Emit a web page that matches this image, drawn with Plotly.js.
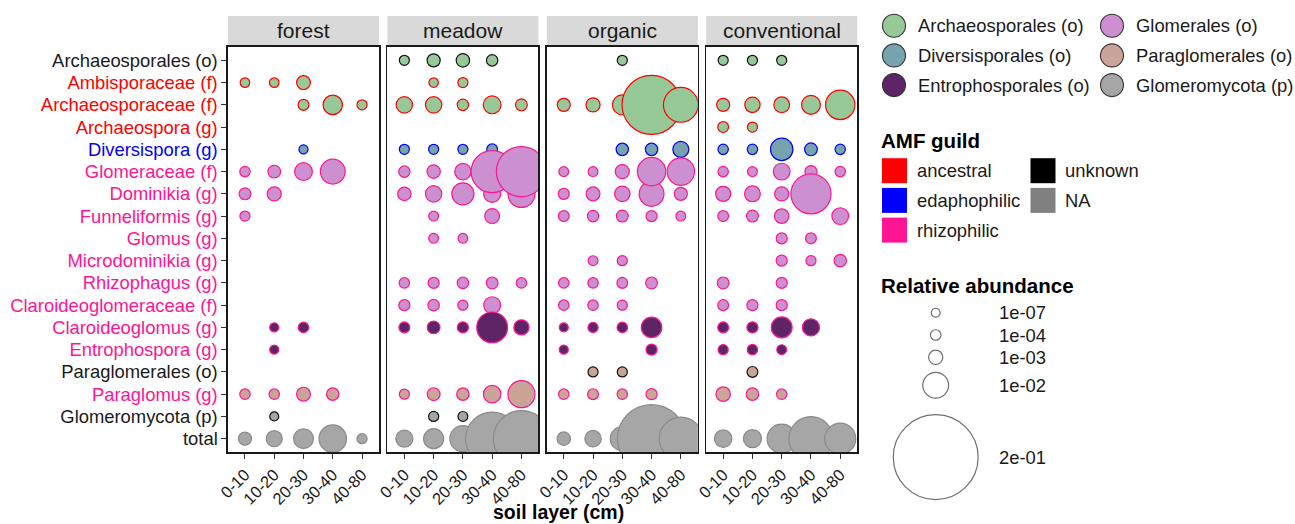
<!DOCTYPE html>
<html>
<head>
<meta charset="utf-8">
<script src="https://cdn.plot.ly/plotly-3.0.1.min.js"></script>
<style>html,body{margin:0;padding:0;background:#fff}#chart{width:1295px;height:524px}</style>
</head>
<body>
<div id="chart"></div>
<script>
// ---------- data ----------
const taxa = ['Archaeosporales (o)','Ambisporaceae (f)','Archaeosporaceae (f)','Archaeospora (g)','Diversispora (g)',
  'Glomeraceae (f)','Dominikia (g)','Funneliformis (g)','Glomus (g)','Microdominikia (g)','Rhizophagus (g)',
  'Claroideoglomeraceae (f)','Claroideoglomus (g)','Entrophospora (g)','Paraglomerales (o)','Paraglomus (g)',
  'Glomeromycota (p)','total'];
const taxonOrder = ['Archaeosporales (o)','Archaeosporales (o)','Archaeosporales (o)','Archaeosporales (o)','Diversisporales (o)',
  'Glomerales (o)','Glomerales (o)','Glomerales (o)','Glomerales (o)','Glomerales (o)','Glomerales (o)',
  'Glomerales (o)','Entrophosporales (o)','Entrophosporales (o)','Paraglomerales (o)','Paraglomerales (o)',
  'Glomeromycota (p)','Glomeromycota (p)'];
const taxonGuild = ['unknown','ancestral','ancestral','ancestral','edaphophilic',
  'rhizophilic','rhizophilic','rhizophilic','rhizophilic','rhizophilic','rhizophilic',
  'rhizophilic','rhizophilic','rhizophilic','unknown','rhizophilic','unknown','NA'];
const soilLayers = ['0-10','10-20','20-30','30-40','40-80'];
const landUses = ['forest','meadow','organic','conventional'];

const orderNames = ['Archaeosporales (o)','Diversisporales (o)','Entrophosporales (o)','Glomerales (o)','Paraglomerales (o)','Glomeromycota (p)'];
const orderFills = ['#97C897','#77A3AC','#5E2566','#CC8FCF','#C9A497','#A6A6A6'];
const guildNames = ['ancestral','edaphophilic','rhizophilic','unknown','NA'];
const guildColors = ['#FF0000','#0000FF','#FF1493','#111111','#8A8A8A'];
const labelColors = {ancestral:'#FF0000', edaphophilic:'#0000FF', rhizophilic:'#FF1493', unknown:'#1a1a1a', NA:'#1a1a1a'};

const sizeBreaks = [1e-7, 1e-4, 1e-3, 1e-2, 2e-1];
const sizeLabels = ['1e-07','1e-04','1e-03','1e-02','2e-01'];

// relative abundance, rows = taxa, columns = soil layers
const forestAbundance = [
  [null,null,null,null,null],
  [2.2e-5,2.2e-5,8.7e-4,null,null],
  [null,null,1.5e-4,3.9e-3,5.8e-5],
  [null,null,null,null,null],
  [null,null,3e-6,null,null],
  [8.9e-5,5.5e-4,2.8e-3,8.9e-3,null],
  [3.1e-4,9.7e-4,null,null,null],
  [5.8e-5,null,null,null,null],
  [null,null,null,null,null],
  [null,null,null,null,null],
  [null,null,null,null,null],
  [null,null,null,null,null],
  [null,3e-6,8.9e-5,null,null],
  [null,3e-6,null,null,null],
  [null,null,null,null,null],
  [8.9e-5,8.9e-5,8.7e-4,4.5e-4,null],
  [null,1e-6,null,null,null],
  [6.4e-4,1.8e-3,4.2e-3,1.2e-2,5.8e-5]
];
const meadowAbundance = [
  [5.8e-5,6.4e-4,7.3e-4,2.3e-4,null],
  [null,1.2e-5,5.8e-5,null,null],
  [2.0e-3,2.0e-3,2.3e-4,2.8e-3,3.1e-4],
  [null,null,null,null,null],
  [5.8e-5,5.8e-5,5.8e-5,1.4e-4,null],
  [2.3e-4,7.3e-4,2.0e-3,3.84e-2,5.9e-2],
  [7.3e-4,2.0e-3,6.1e-3,2.4e-3,1.16e-2],
  [null,3.5e-5,null,1.25e-3,null],
  [null,3.5e-5,3.5e-5,null,null],
  [null,null,null,null,null],
  [8.9e-5,1.8e-4,2.3e-4,3.1e-4,8.9e-5],
  [1.8e-4,2.3e-4,5.8e-5,2.2e-3,null],
  [1.4e-4,5.5e-4,1.8e-4,1.67e-2,1.4e-3],
  [null,null,null,null,null],
  [null,null,null,null,null],
  [5.8e-5,5.5e-4,4.5e-4,2.6e-3,1.16e-2],
  [null,5.8e-5,3.5e-5,null,null],
  [2.4e-3,4.4e-3,1.04e-2,6.79e-2,7.74e-2]
];
const organicAbundance = [
  [null,null,5.8e-5,null,null],
  [null,null,null,null,null],
  [6.4e-4,9.7e-4,4.2e-3,8.75e-2,2.34e-2],
  [null,null,null,null,null],
  [null,null,4.5e-4,4.5e-4,1.8e-3],
  [3.5e-5,3.5e-5,9.7e-4,1.33e-2,1.2e-2],
  [1.8e-4,8.7e-4,1.5e-3,8.9e-3,6.4e-4],
  [1.4e-4,2.3e-4,3.1e-4,1.8e-4,3.5e-5],
  [null,null,null,null,null],
  [null,3.5e-5,5.8e-5,null,null],
  [8.9e-5,8.9e-5,1.4e-4,3.1e-4,null],
  [8.9e-5,8.9e-5,5.8e-5,null,null],
  [1e-6,5.8e-5,8.9e-5,4.7e-3,null],
  [3e-6,null,null,1.8e-4,null],
  [null,5.8e-5,5.8e-5,null,null],
  [8.9e-5,1.4e-4,8.9e-5,1.8e-4,null],
  [null,null,null,null,null],
  [7.3e-4,2.0e-3,8.1e-3,1.22e-1,4.07e-2]
];
const conventionalAbundance = [
  [5.8e-5,5.8e-5,5.8e-5,null,null],
  [null,null,null,null,null],
  [6.4e-4,1.5e-3,1.7e-3,3.5e-3,1.47e-2],
  [1.4e-4,5.8e-5,null,null,null],
  [8.9e-5,8.9e-5,6.4e-3,5.5e-4,8.9e-5],
  [8.9e-5,3.5e-5,2.2e-3,3.8e-4,8.9e-5],
  [1.4e-3,1.7e-3,9.7e-4,3.39e-2,null],
  [1.4e-4,3.1e-4,1.1e-3,null,2.2e-3],
  [null,null,1.8e-4,1.4e-4,null],
  [null,null,1.8e-4,5.8e-5,4.5e-4],
  [3.1e-4,null,1.8e-4,null,null],
  [1.4e-4,1.8e-4,1.8e-4,null,null],
  [1.4e-4,1.8e-4,5.0e-3,2.4e-3,null],
  [5.8e-5,8.9e-5,3.5e-5,null,null],
  [null,1.4e-4,null,null,null],
  [1.1e-3,4.5e-4,8.9e-5,null,null],
  [null,null,null,null,null],
  [2.6e-3,3.0e-3,1.43e-2,4.31e-2,1.72e-2]
];

// ---------- drawing ----------
const W = 1295, H = 524;
const FONT = 'Liberation Sans, Arial, sans-serif';
const TXT = '#1a1a1a';
const px = v => v / W;
const py = v => 1 - v / H;
const sizeOf = v => 8.8 + 170 * Math.sqrt(v);   // marker diameter (px) from relative abundance
const tables = [forestAbundance, meadowAbundance, organicAbundance, conventionalAbundance];
const panelLeft = i => 228 + i * 159.4;
const panelWidth = 151;
const yDomain = [py(452), py(47)];

const traces = [];
const shapes = [];
const annotations = [];
const layout = {
  width: W, height: H, autosize: false,
  margin: {l: 0, r: 0, t: 0, b: 0, pad: 0},
  paper_bgcolor: '#ffffff', plot_bgcolor: '#ffffff',
  font: {family: FONT, color: TXT},
  showlegend: false, hovermode: false
};

const tickText = taxa.map((t, i) => '<span style="color:' + labelColors[taxonGuild[i]] + '">' + t + '</span>');

tables.forEach((tab, p) => {
  const sx = p === 0 ? '' : String(p + 1);
  const pts = [];
  tab.forEach((row, r) => row.forEach((v, c) => { if (v !== null) pts.push({r: r, c: c, v: v}); }));
  pts.sort((a, b) => (a.c - b.c) || (a.v - b.v));
  traces.push({
    type: 'scatter', mode: 'markers',
    x: pts.map(q => q.c), y: pts.map(q => q.r),
    xaxis: 'x' + sx, yaxis: 'y' + sx,
    cliponaxis: true,
    marker: {
      symbol: 'circle',
      size: pts.map(q => sizeOf(q.v)),
      color: pts.map(q => orderFills[orderNames.indexOf(taxonOrder[q.r])]),
      opacity: 1,
      line: {width: 1.2, color: pts.map(q => guildColors[guildNames.indexOf(taxonGuild[q.r])])}
    }
  });
  const x0 = panelLeft(p), x1 = x0 + panelWidth;
  layout['xaxis' + sx] = {
    domain: [px(x0), px(x1)], anchor: 'y' + sx, range: [-0.58, 4.58],
    tickmode: 'array', tickvals: soilLayers.map((s, i) => i), ticktext: soilLayers,
    tickangle: -45, tickfont: {size: 16.5, color: TXT, family: FONT},
    ticks: 'outside', ticklen: 5, tickwidth: 1, tickcolor: '#333333',
    showline: true, mirror: true, linecolor: '#1a1a1a', linewidth: 1.6,
    showgrid: false, zeroline: false, automargin: false, fixedrange: true
  };
  layout['yaxis' + sx] = {
    domain: yDomain, anchor: 'x' + sx, range: [17.6, -0.6],
    tickmode: 'array', tickvals: taxa.map((t, i) => i), ticktext: tickText,
    showticklabels: p === 0, ticks: p === 0 ? 'outside' : '', ticklen: 5, tickwidth: 1, tickcolor: '#333333',
    tickfont: {size: 18.4, color: TXT, family: FONT},
    showline: true, mirror: true, linecolor: '#1a1a1a', linewidth: 1.6,
    showgrid: false, zeroline: false, automargin: false, fixedrange: true
  };
  // facet strip
  shapes.push({type: 'rect', xref: 'paper', yref: 'paper', x0: px(x0), x1: px(x1), y0: py(45), y1: py(16),
    fillcolor: '#D9D9D9', line: {width: 0}, layer: 'below'});
  annotations.push({xref: 'paper', yref: 'paper', x: px((x0 + x1) / 2), y: py(30.5), text: landUses[p],
    showarrow: false, xanchor: 'center', yanchor: 'middle', font: {size: 21, color: TXT, family: FONT}});
});

// x axis title
annotations.push({xref: 'paper', yref: 'paper', x: px(558), y: py(512), text: '<b>soil layer (cm)</b>',
  showarrow: false, xanchor: 'center', yanchor: 'middle', borderpad: 0, font: {size: 19.5, color: '#000', family: FONT}});

// ---------- legends (pixel-like coordinates on a hidden axis) ----------
layout.xaxis5 = {domain: [px(870), 1], range: [870, 1295], visible: false, fixedrange: true, anchor: 'y5'};
layout.yaxis5 = {domain: [0, 1], range: [524, 0], visible: false, fixedrange: true, anchor: 'x5'};

// fill legend
const fillX = orderNames.map((n, k) => 894 + Math.floor(k / 3) * 218);
const fillY = orderNames.map((n, k) => 25.7 + (k % 3) * 29.7);
traces.push({type: 'scatter', mode: 'markers', xaxis: 'x5', yaxis: 'y5', x: fillX, y: fillY,
  marker: {size: 23, color: orderFills, line: {width: 1.1, color: '#333333'}}});
orderNames.forEach((n, k) => annotations.push({xref: 'x5', yref: 'y5', x: fillX[k] + 22, y: fillY[k], text: n,
  showarrow: false, xanchor: 'left', yanchor: 'middle', font: {size: 18.4, color: TXT, family: FONT}}));

// guild legend
annotations.push({xref: 'x5', yref: 'y5', x: 879, y: 140, text: '<b>AMF guild</b>', showarrow: false,
  xanchor: 'left', yanchor: 'middle', font: {size: 20.5, color: '#000', family: FONT}});
const guildX = guildNames.map((n, k) => 894.5 + Math.floor(k / 3) * 148.5);
const guildY = guildNames.map((n, k) => 170.7 + (k % 3) * 29.7);
traces.push({type: 'scatter', mode: 'markers', xaxis: 'x5', yaxis: 'y5', x: guildX, y: guildY,
  marker: {symbol: 'square', size: 25, color: guildColors.map((c, k) => k === 3 ? '#000000' : (k === 4 ? '#808080' : c)), line: {width: 0}}});
guildNames.forEach((n, k) => annotations.push({xref: 'x5', yref: 'y5', x: guildX[k] + 20, y: guildY[k], text: n,
  showarrow: false, xanchor: 'left', yanchor: 'middle', font: {size: 18.4, color: TXT, family: FONT}}));

// size legend
annotations.push({xref: 'x5', yref: 'y5', x: 879, y: 285, text: '<b>Relative abundance</b>', showarrow: false,
  xanchor: 'left', yanchor: 'middle', font: {size: 20.5, color: '#000', family: FONT}});
const keyH = sizeBreaks.map(v => Math.max(22.3, 1.3 * sizeOf(v)));
const sizeY = [];
keyH.forEach((h, k) => sizeY.push(k === 0 ? 312.7 : sizeY[k - 1] + keyH[k - 1] / 2 + h / 2));
traces.push({type: 'scatter', mode: 'markers', xaxis: 'x5', yaxis: 'y5', x: sizeBreaks.map(() => 935.7), y: sizeY,
  cliponaxis: false,
  marker: {size: sizeBreaks.map(sizeOf), color: '#ffffff', line: {width: 1.2, color: '#333333'}}});
sizeLabels.forEach((t, k) => annotations.push({xref: 'x5', yref: 'y5', x: 997, y: sizeY[k], text: t,
  showarrow: false, xanchor: 'left', yanchor: 'middle', font: {size: 18.4, color: TXT, family: FONT}}));

layout.shapes = shapes;
layout.annotations = annotations;

Plotly.newPlot('chart', traces, layout, {displayModeBar: false, staticPlot: true});
</script>
</body>
</html>
